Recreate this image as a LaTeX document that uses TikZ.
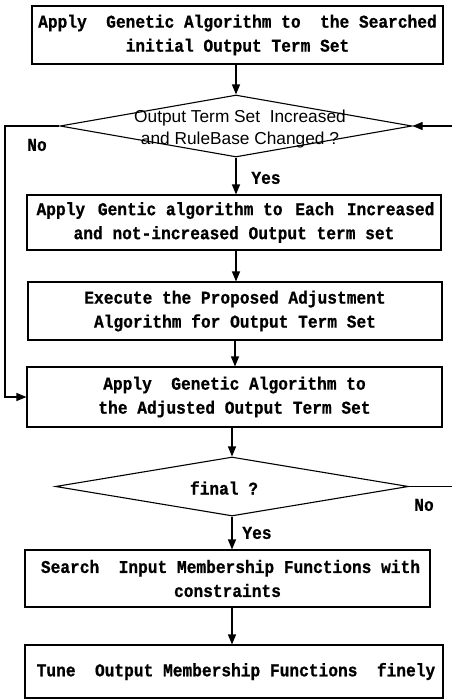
\documentclass[tikz,border=0pt]{standalone}
\usepackage{fontspec}
\setmainfont{Liberation Serif}
\newfontfamily\boxfont{Liberation Mono}[FakeStretch=0.9, BoldFeatures={FakeBold=0.8}]
\newfontfamily\dfont{Liberation Sans}
\usetikzlibrary{arrows.meta,shapes.geometric}
\begin{document}
\begin{tikzpicture}[x=1pt,y=-1pt,line width=1.1pt,
  proc/.style={draw, rectangle, inner sep=0pt, align=center,
    font=\boxfont\bfseries\fontsize{18}{24}\selectfont},
  dia/.style={draw, diamond, inner sep=0pt},
  dtext/.style={inner sep=0pt, align=center, font=\dfont\fontsize{17.3}{22}\selectfont},
  lbl/.style={inner sep=0pt, font=\boxfont\bfseries\fontsize{18}{20}\selectfont},
  arr/.style={-{Triangle[length=10pt,width=8pt]}}]
\useasboundingbox (0,0) rectangle (452,699);

\node[proc, minimum width=411pt, minimum height=58pt] (b1) at (237.5,35)
  {Apply\ \ Genetic Algorithm to\ \ the Searched\\initial Output Term Set};
\node[dia, minimum width=352pt, minimum height=62pt] (d1) at (236,126) {};
\node[dtext] (d1t) at (240,129) {Output Term Set\ \ Increased\\and RuleBase Changed ?};
\node[proc, minimum width=414pt, minimum height=55pt] (b2) at (234,222.5)
  {\makebox[400pt]{\hspace{3pt}Apply\ \,Gentic algorithm to\ \,Each\ \,Increased}\\and not-increased Output term set};
\node[proc, minimum width=414pt, minimum height=58pt] (b3) at (235,311)
  {Execute the Proposed Adjustment\\Algorithm for Output Term Set};
\node[proc, minimum width=415pt, minimum height=60pt] (b4) at (234.5,397)
  {Apply\ \ Genetic Algorithm to\\the Adjusted Output Term Set};
\node[dia, minimum width=353pt, minimum height=59pt] (d2) at (232,486.5) {};
\node[lbl] (d2t) at (224,488) {final ?};
\node[proc, minimum width=405pt, minimum height=57pt] (b5) at (227.5,578.5)
  {\makebox[380pt]{\hspace{6pt}Search\ \ Input Membership Functions with}\\constraints};
\node[proc, minimum width=418pt, minimum height=53pt] (b6) at (234,671.5)
  {\makebox[400pt]{\hspace{4pt}Tune\ \ Output Membership Functions\ \ finely}};

\node[lbl] (no1) at (37,145) {No};
\node[lbl] (yes1) at (266,178) {Yes};
\node[lbl] (no2) at (424,505) {No};
\node[lbl] (yes2) at (257,533) {Yes};

\coordinate (nl) at (5,126);
\coordinate (rin) at (452,126);
\coordinate (rout) at (452,486.5);

\draw[arr] (b1.south -| d1.north) -- (d1.north);
\draw[arr] (d1.south) -- (d1.south |- b2.north);
\draw[arr] (b2.south -| d1.north) -- (b3.north -| d1.north);
\draw[arr] (b3.south -| 235,0) -- (b4.north -| 235,0);
\draw[arr] (b4.south -| d2.north) -- (d2.north);
\draw[arr] (d2.south) -- (d2.south |- b5.north);
\draw[arr] (b5.south -| d2.south) -- (d2.south |- b6.north);
\draw[arr] (d1.west) -- (nl) |- (b4.west);
\draw[arr] (rin) -- (d1.east);
\draw (d2.east) -- (rout);
\end{tikzpicture}
\end{document}
